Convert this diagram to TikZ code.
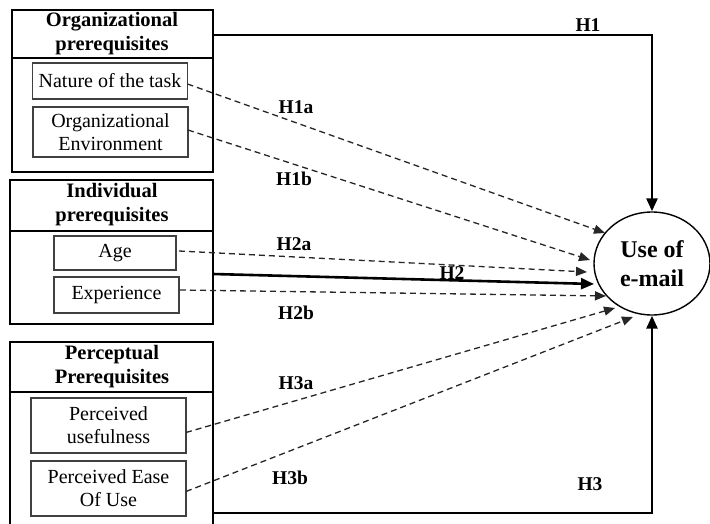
\documentclass[tikz,border=0pt]{standalone}
\usepackage{fontspec}
\setmainfont{Liberation Serif}
\usetikzlibrary{arrows.meta,shapes.geometric,calc}
\begin{document}
\begin{tikzpicture}[x=1pt,y=-1pt,
  grp/.style={draw=black,line width=2.4pt,anchor=north west,inner sep=0pt,outer sep=0pt},
  divline/.style={draw=black,line width=2.2pt},
  hdr/.style={font=\fontsize{20.5}{24}\selectfont\bfseries,align=center,inner sep=0pt},
  ibox/.style={draw=black!75,line width=1.2pt,font=\fontsize{20}{23}\selectfont,align=center,inner sep=0pt,outer sep=0pt},
  lbl/.style={font=\fontsize{19.5}{22}\selectfont\bfseries,inner sep=0pt},
  dasharrow/.style={draw=black!85,line width=1.3pt,dash pattern=on 6pt off 4pt,-{Triangle[length=11pt,width=9pt]}},
  solidarrow/.style={draw=black,line width=2.6pt,-{Triangle[length=13pt,width=11pt]}}]
\useasboundingbox (0,0) rectangle (710,524);

% group 1
\node[grp,minimum width=201pt,minimum height=162pt] (g1) at (12,10) {};
\draw[divline] (12,58) -- (213,58);
\node[hdr] (h1t) at (112,34) {Organizational\\prerequisites};
\node[ibox,minimum width=155pt,minimum height=36pt] (nat) at (110,81) {Nature of the task};
\node[ibox,minimum width=155pt,minimum height=50pt] (env) at (110.5,132) {Organizational\\Environment};

% group 2
\node[grp,minimum width=203pt,minimum height=144pt] (g2) at (10,180) {};
\draw[divline] (10,231) -- (213,231);
\node[hdr] (h2t) at (112,205) {Individual\\prerequisites};
\node[ibox,minimum width=122pt,minimum height=34pt] (age) at (115,253) {Age};
\node[ibox,minimum width=125pt,minimum height=36pt] (exp) at (116.5,295) {Experience};

% group 3
\node[grp,minimum width=203pt,minimum height=186pt] (g3) at (10,342) {};
\draw[divline] (10,392) -- (213,392);
\node[hdr] (h3t) at (112,367) {Perceptual\\Prerequisites};
\node[ibox,minimum width=155pt,minimum height=55pt] (pu) at (108.5,425.5) {Perceived\\usefulness};
\node[ibox,minimum width=155pt,minimum height=55pt] (peou) at (108.5,488.5) {Perceived Ease\\Of Use};

% outcome
\node[draw=black,line width=1.4pt,ellipse,minimum width=116pt,minimum height=103pt,inner sep=0pt,
      font=\fontsize{24}{29}\selectfont\bfseries,align=center] (use) at (652,263.5) {Use of\\e-mail};

% arrow tips
\coordinate (t1a) at (605,233);
\coordinate (t1b) at (590,260);
\coordinate (t2a) at (587,272);
\coordinate (t2) at (594,284);
\coordinate (t2b) at (606,296);
\coordinate (t3a) at (615,308);
\coordinate (t3b) at (633,317);
\coordinate (h1s) at (213,35);
\coordinate (h2s) at (213,274);
\coordinate (h3s) at (213,513);

% dashed hypotheses
\draw[dasharrow] ($(nat.east)+(0,3)$) -- (t1a);
\draw[dasharrow] ($(env.east)+(0,-2)$) -- (t1b);
\draw[dasharrow] ($(age.east)+(3,-2)$) -- (t2a);
\draw[dasharrow] ($(exp.east)+(1,-5)$) -- (t2b);
\draw[dasharrow] ($(pu.east)+(0,7)$) -- (t3a);
\draw[dasharrow] ($(peou.east)+(0,3)$) -- (t3b);

% solid hypotheses
\draw[solidarrow] (h1s) -| (use.north);
\draw[solidarrow] (h2s) -- (t2);
\draw[solidarrow] (h3s) -| (use.south);

% labels
\node[lbl] (l1) at (588,25) {H1};
\node[lbl] (l1a) at (296,107) {H1a};
\node[lbl] (l1b) at (294,179) {H1b};
\node[lbl] (l2a) at (294,244) {H2a};
\node[lbl] (l2) at (452,273) {H2};
\node[lbl] (l2b) at (296,313) {H2b};
\node[lbl] (l3a) at (296,383) {H3a};
\node[lbl] (l3b) at (290,478) {H3b};
\node[lbl] (l3) at (590,484) {H3};
\end{tikzpicture}
\end{document}
